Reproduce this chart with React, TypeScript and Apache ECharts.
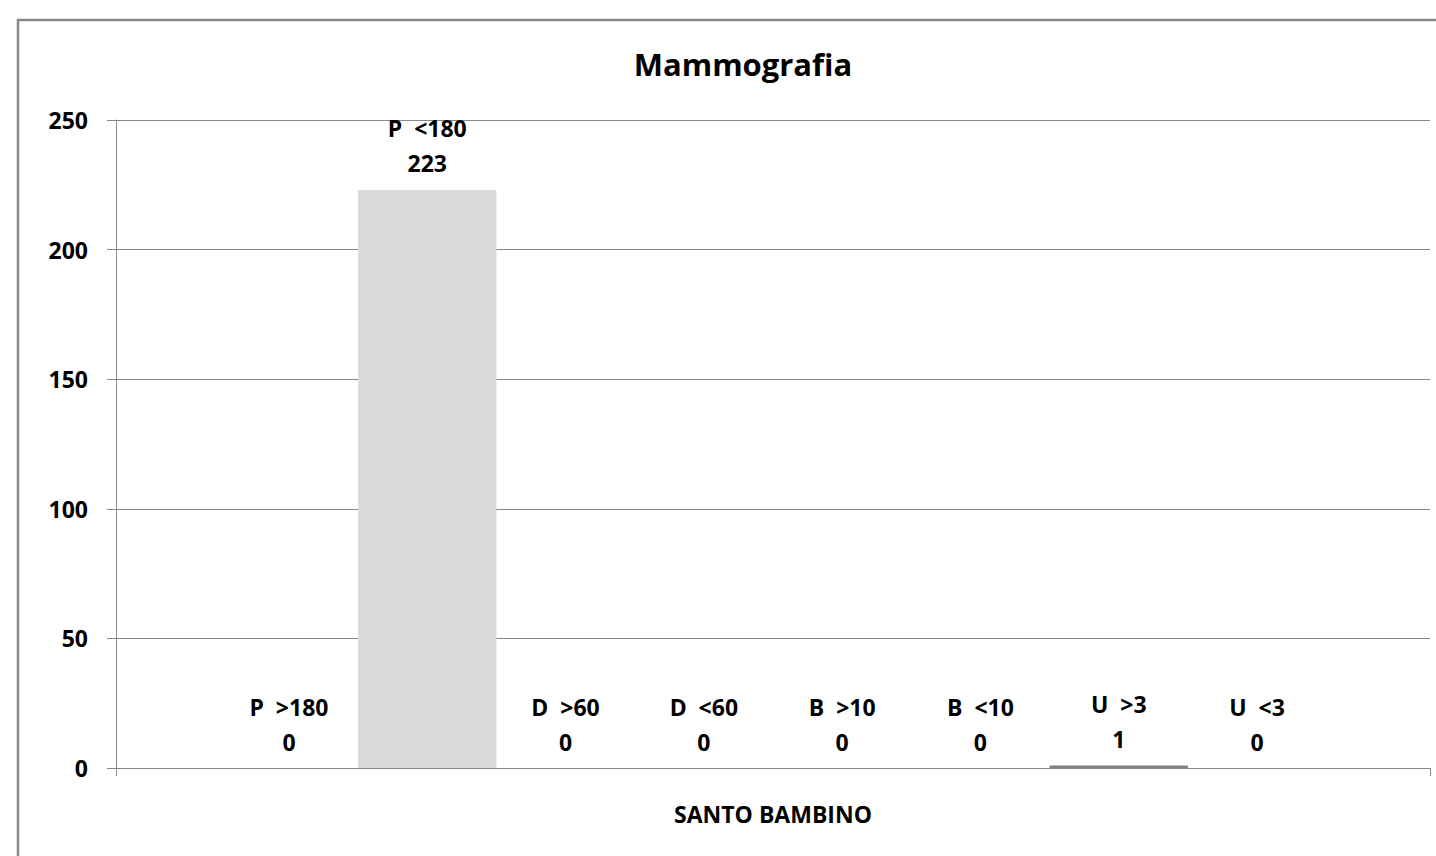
import React, { useEffect, useRef } from "react";
import * as echarts from "echarts";

const categories = ["SANTO BAMBINO"];
const seriesNames = ["P  >180", "P  <180", "D  >60", "D  <60", "B  >10", "B  <10", "U  >3", "U  <3"];
const seriesValues = [0, 223, 0, 0, 0, 0, 1, 0];
const seriesColors = ["#4f81bd", "#d9d9d9", "#9bbb59", "#8064a2", "#4bacc6", "#f79646", "#808080", "#c0504d"];
const yTicks = { min: 0, max: 250, interval: 50 };

const FONT = "'Open Sans', Lato, sans-serif";

export default function App() {
  const ref = useRef<HTMLDivElement>(null);

  useEffect(() => {
    if (!ref.current) return;
    const chart = echarts.init(ref.current, undefined, { renderer: "svg" });
    chart.setOption({
      animation: false,
      backgroundColor: "#ffffff",
      title: {
        text: "Mammografia",
        left: 738,
        top: 43,
        textAlign: "center",
        textStyle: { fontFamily: FONT, fontWeight: "bold", fontSize: 31, color: "#000" },
      },
      graphic: [
        {
          type: "rect",
          shape: { x: 18, y: 20, width: 1500, height: 900 },
          style: { fill: "none", stroke: "#878787", lineWidth: 2.5 },
          silent: true,
        },
      ],
      grid: { left: 116, right: 6, top: 120, bottom: 88, containLabel: false },
      xAxis: {
        type: "category",
        data: categories,
        axisLine: { show: true, lineStyle: { color: "#888888", width: 1 } },
        axisTick: { show: true, length: 8, lineStyle: { color: "#888888" } },
        axisLabel: {
          margin: 34,
          fontFamily: FONT,
          fontWeight: "bold",
          fontSize: 23,
          color: "#000",
        },
      },
      yAxis: {
        type: "value",
        min: yTicks.min,
        max: yTicks.max,
        interval: yTicks.interval,
        axisLine: { show: true, lineStyle: { color: "#888888", width: 1 } },
        axisTick: { show: true, length: 9, lineStyle: { color: "#888888" } },
        splitLine: { show: true, lineStyle: { color: "#888888", width: 1 } },
        axisLabel: {
          margin: 28,
          fontFamily: FONT,
          fontWeight: "bold",
          fontSize: 23,
          color: "#000",
        },
      },
      series: seriesNames.map((name, i) => ({
        name,
        type: "bar",
        data: [seriesValues[i]],
        barGap: "0%",
        barCategoryGap: "15.8%",
        itemStyle: { color: seriesColors[i] },
        label: {
          show: true,
          position: "top",
          distance: 9,
          formatter: (p: any) => `${p.seriesName}\n${p.value}`,
          fontFamily: FONT,
          fontWeight: "bold",
          fontSize: 23,
          lineHeight: 35,
          color: "#000",
          align: "center",
        },
      })),
    });
    return () => chart.dispose();
  }, []);

  return (
    <div
      ref={ref}
      style={{ position: "absolute", left: 0, top: 0, width: 1436, height: 856 }}
    />
  );
}
